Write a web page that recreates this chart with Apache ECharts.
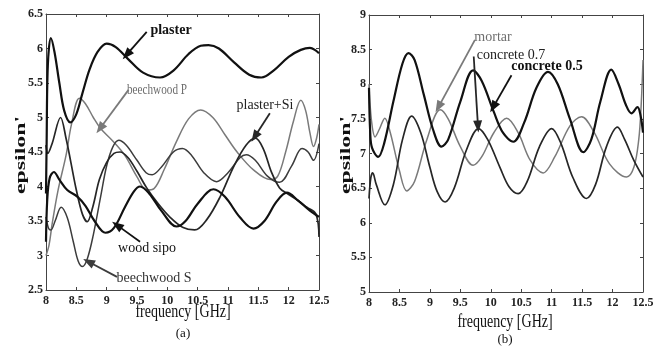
<!DOCTYPE html>
<html>
<head>
<meta charset="utf-8">
<script src="https://cdn.jsdelivr.net/npm/echarts@6/dist/echarts.min.js"></script>
<style>
  html, body { margin: 0; padding: 0; background: #fff; }
  #chart { width: 661px; height: 353px; }
</style>
</head>
<body>
<div id="chart"></div>
<script>
// tick labels
const freqTicks = [8, 8.5, 9, 9.5, 10, 10.5, 11, 11.5, 12, 12.5];

// (a) curves: [frequency GHz, epsilon']
const plaster = [[8.0,3.9],[8.01,4.6],[8.03,5.75],[8.08,6.15],[8.14,5.95],[8.22,5.5],[8.3,5.1],[8.4,4.93],[8.5,5.05],[8.6,5.35],[8.72,5.7],[8.85,5.95],[9.0,6.07],[9.15,6.02],[9.35,5.85],[9.6,5.65],[9.88,5.58],[10.1,5.68],[10.35,5.92],[10.55,6.04],[10.68,6.05],[10.85,6.0],[11.1,5.8],[11.35,5.62],[11.55,5.58],[11.75,5.68],[12.0,5.88],[12.2,5.98],[12.35,6.01],[12.45,5.97],[12.5,5.93]];
const beechwoodP = [[8.0,3.0],[8.05,3.15],[8.1,3.45],[8.2,3.95],[8.33,4.45],[8.42,4.9],[8.55,5.28],[8.65,5.2],[8.78,5.0],[8.9,4.84],[9.1,4.66],[9.3,4.45],[9.5,4.14],[9.66,3.95],[9.78,3.97],[9.95,4.25],[10.15,4.65],[10.35,4.98],[10.55,5.11],[10.75,5.0],[10.95,4.75],[11.15,4.5],[11.42,4.24],[11.7,4.1],[11.82,4.15],[11.95,4.5],[12.08,4.95],[12.2,5.25],[12.28,5.1],[12.35,4.78],[12.41,4.58],[12.46,4.7],[12.5,4.9]];
const plasterSi = [[8.0,4.6],[8.03,4.48],[8.1,4.62],[8.24,5.0],[8.33,4.7],[8.41,4.35],[8.5,3.95],[8.6,3.6],[8.68,3.49],[8.77,3.7],[8.88,4.1],[9.0,4.35],[9.12,4.48],[9.22,4.5],[9.35,4.42],[9.5,4.22],[9.66,3.98],[9.85,3.75],[10.05,3.55],[10.25,3.41],[10.45,3.37],[10.65,3.52],[10.87,3.85],[11.1,4.3],[11.3,4.6],[11.45,4.7],[11.58,4.55],[11.72,4.2],[11.85,3.98],[11.97,3.9],[12.15,3.8],[12.3,3.7],[12.45,3.6],[12.5,3.27]];
const beechwoodS = [[8.0,3.56],[8.04,3.4],[8.08,3.37],[8.15,3.5],[8.25,3.7],[8.35,3.55],[8.45,3.2],[8.53,2.92],[8.6,2.84],[8.68,2.95],[8.78,3.3],[8.9,3.85],[9.0,4.3],[9.1,4.57],[9.2,4.67],[9.32,4.6],[9.5,4.38],[9.65,4.2],[9.75,4.17],[9.9,4.28],[10.1,4.5],[10.25,4.55],[10.4,4.45],[10.6,4.2],[10.81,4.07],[11.0,4.2],[11.2,4.42],[11.3,4.46],[11.45,4.38],[11.65,4.15],[11.85,4.06],[12.05,4.3],[12.22,4.55],[12.32,4.5],[12.41,4.38],[12.5,4.62]];
const woodSipo = [[8.0,3.2],[8.02,3.8],[8.06,4.12],[8.13,4.21],[8.22,4.1],[8.35,3.95],[8.52,3.85],[8.65,3.72],[8.8,3.5],[8.98,3.33],[9.12,3.4],[9.3,3.7],[9.45,3.93],[9.55,4.0],[9.7,3.9],[9.9,3.65],[10.15,3.42],[10.3,3.5],[10.5,3.75],[10.76,3.96],[10.95,3.85],[11.2,3.55],[11.42,3.39],[11.6,3.5],[11.8,3.78],[11.97,3.91],[12.15,3.8],[12.35,3.65],[12.5,3.56]];

// (b) curves
const concrete05 = [[8.0,7.95],[8.02,7.3],[8.05,7.08],[8.15,6.95],[8.25,7.15],[8.4,7.75],[8.55,8.3],[8.65,8.45],[8.75,8.35],[8.9,7.85],[9.05,7.35],[9.19,7.1],[9.3,7.2],[9.5,7.75],[9.71,8.2],[9.85,8.05],[10.05,7.6],[10.2,7.3],[10.37,7.17],[10.55,7.45],[10.75,7.95],[10.94,8.18],[11.1,8.0],[11.3,7.5],[11.52,7.02],[11.65,7.2],[11.8,7.75],[11.98,8.21],[12.1,8.0],[12.22,7.7],[12.31,7.58],[12.41,7.67],[12.46,7.55],[12.5,7.3]];
const concrete07 = [[8.0,6.35],[8.03,6.65],[8.06,6.72],[8.12,6.55],[8.26,6.26],[8.4,6.55],[8.55,7.2],[8.7,7.54],[8.85,7.3],[9.0,6.8],[9.12,6.45],[9.25,6.3],[9.4,6.5],[9.6,7.05],[9.8,7.36],[9.95,7.2],[10.15,6.8],[10.3,6.52],[10.45,6.42],[10.6,6.6],[10.8,7.1],[11.0,7.36],[11.15,7.15],[11.35,6.65],[11.57,6.35],[11.72,6.55],[11.9,7.1],[12.08,7.38],[12.2,7.2],[12.35,6.9],[12.5,6.66]];
const mortar = [[8.0,8.0],[8.04,7.48],[8.1,7.24],[8.17,7.35],[8.26,7.51],[8.35,7.3],[8.5,6.75],[8.62,6.46],[8.75,6.6],[8.95,7.2],[9.17,7.63],[9.3,7.5],[9.5,7.1],[9.71,6.83],[9.85,6.95],[10.05,7.3],[10.26,7.51],[10.45,7.3],[10.65,6.9],[10.86,6.72],[11.05,6.95],[11.3,7.4],[11.49,7.53],[11.7,7.3],[11.95,6.85],[12.23,6.66],[12.35,6.8],[12.43,7.2],[12.47,7.7],[12.5,8.35]];

// annotation arrows: [from, to] in data coords
const arrowsA = {
  plaster: [[9.66, 6.24], [9.33, 5.91]],
  beechwoodP: [[9.36, 5.40], [8.89, 4.84]],
  plasterSi: [[11.69, 5.06], [11.44, 4.72]],
  woodSipo: [[9.55, 3.20], [9.17, 3.44]],
  beechwoodS: [[9.17, 2.69], [8.70, 2.91]]
};
const arrowsB = {
  mortar: [[9.74, 8.64], [9.14, 7.67]],
  concrete07: [[9.72, 8.40], [9.79, 7.39]],
  concrete05: [[10.34, 8.13], [10.04, 7.67]]
};

const chart = echarts.init(document.getElementById('chart'));
const SERIF = 'Liberation Serif, Times New Roman, serif';

function xAx(grid, pos) {
  return {
    type: 'value', gridIndex: grid, position: pos, min: 8, max: 12.5, interval: 0.5,
    axisLine: { show: true, onZero: false, lineStyle: { color: '#444', width: 1 } },
    axisTick: { show: true, inside: true, length: 3, lineStyle: { color: '#444' } },
    axisLabel: {
      show: pos === 'bottom', margin: 5, fontFamily: SERIF, fontSize: 12, fontWeight: 'bold', color: '#222',
      formatter: v => freqTicks.includes(v) ? String(v) : ''
    },
    splitLine: { show: false }
  };
}
function yAx(grid, pos, min, max) {
  return {
    type: 'value', gridIndex: grid, position: pos, min: min, max: max, interval: 0.5,
    axisLine: { show: true, onZero: false, lineStyle: { color: '#444', width: 1 } },
    axisTick: { show: true, inside: true, length: 3, lineStyle: { color: '#444' } },
    axisLabel: { show: pos === 'left', margin: 3, fontFamily: SERIF, fontSize: 12, fontWeight: 'bold', color: '#222' },
    splitLine: { show: false }
  };
}
function curve(name, data, xi, yi, color, width, arrow) {
  const s = {
    name: name, type: 'line', xAxisIndex: xi, yAxisIndex: yi, data: data,
    smooth: 0.35, showSymbol: false, symbol: 'none',
    lineStyle: { color: color, width: width }, itemStyle: { color: color }
  };
  if (arrow) {
    s.markLine = {
      silent: true, symbol: ['none', 'triangle'], symbolSize: [9, 12],
      label: { show: false },
      lineStyle: { color: color, width: 1.8, type: 'solid' },
      data: [[{ coord: arrow[0] }, { coord: arrow[1] }]]
    };
  }
  return s;
}
function txt(x, y, s, opts) {
  opts = opts || {};
  return {
    type: 'text', x: x, y: y, rotation: opts.rot || 0,
    scaleX: opts.sx || 1, scaleY: opts.sy || 1, silent: true,
    style: {
      text: s, fontFamily: SERIF, fontSize: opts.size || 14,
      fontWeight: opts.bold ? 'bold' : 'normal', fill: opts.color || '#111',
      align: 'center', verticalAlign: 'middle'
    }
  };
}

const option = {
  animation: false,
  grid: [
    { left: 46, right: 342, top: 14, bottom: 63 },
    { left: 369, right: 18, top: 15, bottom: 61 }
  ],
  xAxis: [xAx(0, 'bottom'), xAx(0, 'top'), xAx(1, 'bottom'), xAx(1, 'top')],
  yAxis: [yAx(0, 'left', 2.5, 6.5), yAx(0, 'right', 2.5, 6.5), yAx(1, 'left', 5, 9), yAx(1, 'right', 5, 9)],
  series: [
    curve('beechwood P', beechwoodP, 0, 0, '#7a7a7a', 1.5, arrowsA.beechwoodP),
    curve('beechwood S', beechwoodS, 0, 0, '#3c3c3c', 1.5, arrowsA.beechwoodS),
    curve('plaster+Si', plasterSi, 0, 0, '#262626', 1.7, arrowsA.plasterSi),
    curve('wood sipo', woodSipo, 0, 0, '#111', 2.2, arrowsA.woodSipo),
    curve('plaster', plaster, 0, 0, '#111', 2.2, arrowsA.plaster),
    curve('mortar', mortar, 2, 2, '#7a7a7a', 1.5, arrowsB.mortar),
    curve('concrete 0.7', concrete07, 2, 2, '#262626', 1.7, arrowsB.concrete07),
    curve('concrete 0.5', concrete05, 2, 2, '#111', 2.2, arrowsB.concrete05)
  ],
  graphic: [
    txt(171, 30, 'plaster', { bold: true }),
    txt(157, 90, 'beechwood P', { color: '#6e6e6e', sx: 0.8 }),
    txt(265, 105, 'plaster+Si', { color: '#222' }),
    txt(147, 248, 'wood sipo', { color: '#111' }),
    txt(154, 278, 'beechwood S', { color: '#333' }),
    txt(493, 37, 'mortar', { color: '#6e6e6e' }),
    txt(511, 55, 'concrete 0.7', { color: '#222' }),
    txt(547, 66, 'concrete 0.5', { bold: true }),
    txt(183, 312, 'frequency [GHz]', { sy: 1.4 }),
    txt(505, 322, 'frequency [GHz]', { sy: 1.4 }),
    txt(183, 334, '(a)', { size: 13 }),
    txt(505, 340, '(b)', { size: 13 }),
    txt(21, 155, "epsilon'", { bold: true, rot: Math.PI / 2, sx: 1.7 }),
    txt(346, 155, "epsilon'", { bold: true, rot: Math.PI / 2, sx: 1.7 })
  ]
};

chart.setOption(option);
window.addEventListener('resize', () => chart.resize());
</script>
</body>
</html>
